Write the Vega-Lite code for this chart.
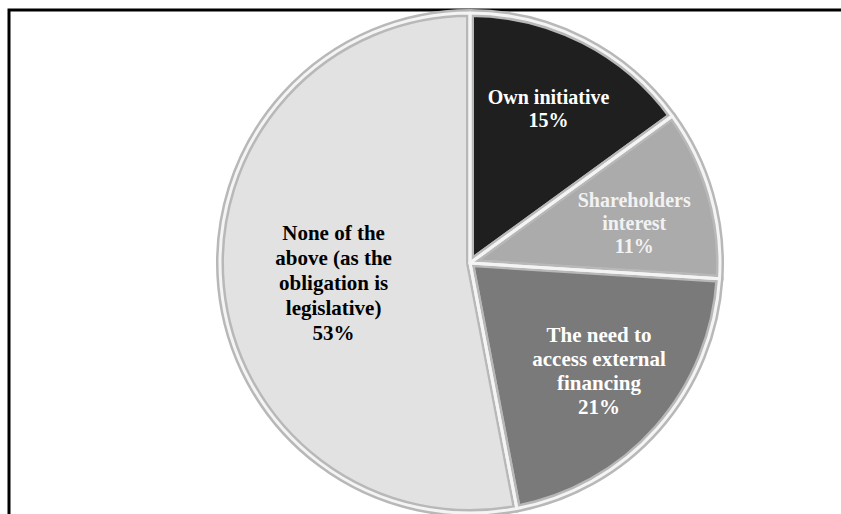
{
  "$schema": "https://vega.github.io/schema/vega-lite/v6.json",
  "width": 922,
  "height": 506,
  "autosize": {"type": "none"},
  "padding": {"left": 9, "top": 10, "right": 0, "bottom": 0},
  "background": "white",
  "view": {"stroke": "black", "strokeWidth": 3, "fill": "white"},
  "config": {"view": {"stroke": "black", "strokeWidth": 3}},
  "data": {
    "values": [
      {"category": "Own initiative", "value": 15, "order": 1},
      {"category": "Shareholders\ninterest", "value": 11, "order": 2},
      {"category": "The need to\naccess external\nfinancing", "value": 21, "order": 3},
      {"category": "None of the\nabove (as the\nobligation is\nlegislative)", "value": 53, "order": 4}
    ]
  },
  "transform": [
    {"calculate": "datum.category + '\\n' + datum.value + '%'", "as": "label"}
  ],
  "encoding": {
    "theta": {"field": "value", "type": "quantitative", "stack": true},
    "order": {"field": "order", "type": "quantitative"}
  },
  "layer": [
    {
      "mark": {"type": "arc", "radius": 250, "stroke": "#b8b8b8", "strokeWidth": 8, "strokeJoin": "round"},
      "encoding": {
        "color": {
          "field": "order",
          "type": "nominal",
          "scale": {"domain": [1, 2, 3, 4], "range": ["#1f1f1f", "#ababab", "#7a7a7a", "#e2e2e2"]},
          "legend": null
        }
      }
    },
    {
      "mark": {"type": "arc", "radius": 250, "fill": null, "fillOpacity": 0, "stroke": "#f4f4f4", "strokeWidth": 3, "strokeJoin": "round"},
      "encoding": {}
    },
    {
      "mark": {"type": "text", "radius": 173, "dy": -11, "font": "Liberation Serif", "fontWeight": "bold", "fontSize": 20, "lineHeight": 23, "lineBreak": "\n", "align": "center", "baseline": "middle", "color": "white"},
      "encoding": {
        "text": {"condition": {"test": "datum.order == 1", "field": "label"}, "value": ""}
      }
    },
    {
      "mark": {"type": "text", "radius": 171, "dy": -14, "font": "Liberation Serif", "fontWeight": "bold", "fontSize": 20, "lineHeight": 23, "lineBreak": "\n", "align": "center", "baseline": "middle", "color": "#f2f2f2"},
      "encoding": {
        "text": {"condition": {"test": "datum.order == 2", "field": "label"}, "value": ""}
      }
    },
    {
      "mark": {"type": "text", "radius": 172, "dy": -41, "font": "Liberation Serif", "fontWeight": "bold", "fontSize": 21, "lineHeight": 24, "lineBreak": "\n", "align": "center", "baseline": "middle", "color": "white"},
      "encoding": {
        "text": {"condition": {"test": "datum.order == 3", "field": "label"}, "value": ""}
      }
    },
    {
      "mark": {"type": "text", "radius": 137, "dy": -42, "font": "Liberation Serif", "fontWeight": "bold", "fontSize": 21, "lineHeight": 25, "lineBreak": "\n", "align": "center", "baseline": "middle", "color": "black"},
      "encoding": {
        "text": {"condition": {"test": "datum.order == 4", "field": "label"}, "value": ""}
      }
    }
  ]
}
